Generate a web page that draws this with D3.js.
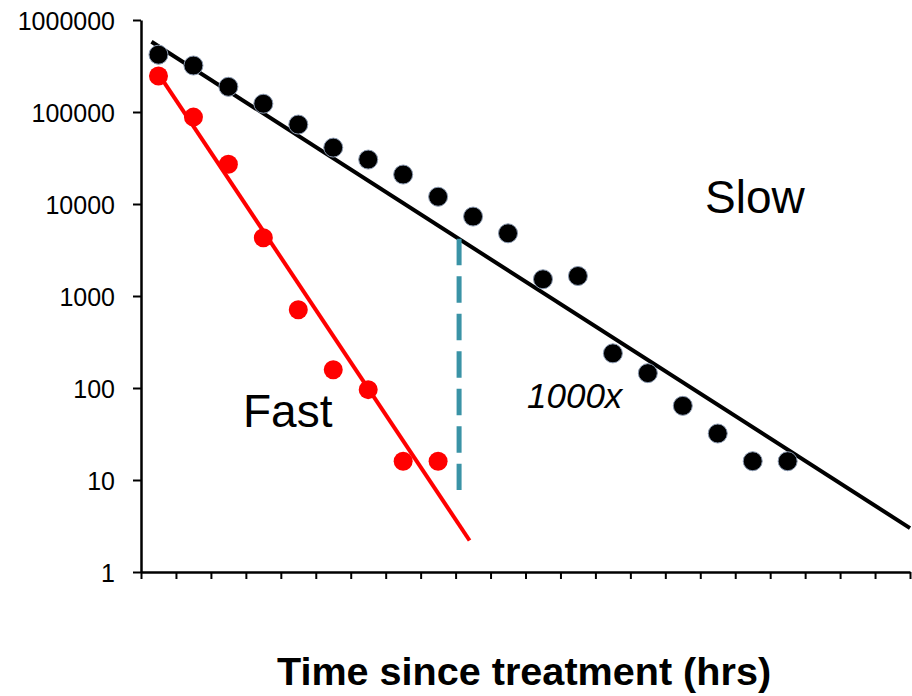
<!DOCTYPE html>
<html>
<head>
<meta charset="utf-8">
<script src="https://cdn.jsdelivr.net/npm/d3@7"></script>
<style>
  body { margin: 0; background: #fff; }
  svg { display: block; font-family: "Liberation Sans", Arial, sans-serif; }
</style>
</head>
<body>
<div id="chart"></div>
<script>
// time points (hrs, in tick units) and counts
const slowTime = [0.5, 1.5, 2.5, 3.5, 4.5, 5.5, 6.5, 7.5, 8.5, 9.5, 10.5, 11.5, 12.5, 13.5, 14.5, 15.5, 16.5, 17.5, 18.5];
const slowCounts = [420000, 320000, 188000, 123000, 73000, 41000, 30400, 20900, 12000, 7300, 4800, 1520, 1650, 238, 145, 64, 32, 16, 16];
const fastTime = [0.5, 1.5, 2.5, 3.5, 4.5, 5.5, 6.5, 7.5, 8.5];
const fastCounts = [246000, 88000, 27000, 4300, 710, 158, 96, 16, 16];

// fitted exponential trend lines (start / end)
const slowFit = [[0.3, 580000], [22, 3.0]];
const fastFit = [[0.5, 260000], [9.4, 2.2]];

// vertical dashed marker showing the 1000x gap
const gapTime = 9.1;
const gapRange = [4200, 7.8];

const yTicks = [1, 10, 100, 1000, 10000, 100000, 1000000];
const xTicks = d3.range(0, 23);

const width = 912, height = 696;

const svg = d3.select("#chart")
  .append("svg")
  .attr("width", width)
  .attr("height", height);

const x = d3.scaleLinear().domain([0, 22]).range([141, 910]);
const y = d3.scaleLog().domain([1, 1000000]).range([572, 20]);

// Y axis
const yAxis = svg.append("g")
  .attr("transform", `translate(${x(0)},0)`)
  .call(d3.axisLeft(y).tickValues(yTicks).tickFormat(d3.format("d")).tickSize(8).tickSizeOuter(0).tickPadding(18));
yAxis.attr("font-size", 25).attr("font-family", "Liberation Sans, Arial, sans-serif");
yAxis.selectAll("text").attr("fill", "#000").attr("dy", "0.36em");
yAxis.selectAll("line").attr("stroke", "#000").attr("stroke-width", 2);
yAxis.select(".domain").attr("stroke", "#000").attr("stroke-width", 2.5);

// X axis (ticks only, no labels)
const xAxis = svg.append("g")
  .attr("transform", `translate(0,${y(1)})`)
  .call(d3.axisBottom(x).tickValues(xTicks).tickFormat("").tickSize(7).tickSizeOuter(0));
xAxis.selectAll("line").attr("stroke", "#000").attr("stroke-width", 2);
xAxis.select(".domain").attr("stroke", "#000").attr("stroke-width", 2.5);

const line = d3.line().x(d => x(d[0])).y(d => y(d[1]));

// trend lines
svg.append("path")
  .datum(slowFit)
  .attr("d", line)
  .attr("fill", "none")
  .attr("stroke", "#000")
  .attr("stroke-width", 4);

svg.append("path")
  .datum(fastFit)
  .attr("d", line)
  .attr("fill", "none")
  .attr("stroke", "#ff0000")
  .attr("stroke-width", 4);

// dashed gap marker
svg.append("line")
  .attr("x1", x(gapTime)).attr("x2", x(gapTime))
  .attr("y1", y(gapRange[0])).attr("y2", y(gapRange[1]))
  .attr("stroke", "#3a93a6")
  .attr("stroke-width", 5)
  .attr("stroke-dasharray", "26.5,11");

// points
svg.append("g").selectAll("circle")
  .data(slowTime.map((t, i) => [t, slowCounts[i]]))
  .enter().append("circle")
  .attr("cx", d => x(d[0]))
  .attr("cy", d => y(d[1]))
  .attr("r", 9.5)
  .attr("fill", "#000")
  .attr("stroke", "#8a99b0")
  .attr("stroke-width", 1);

svg.append("g").selectAll("circle")
  .data(fastTime.map((t, i) => [t, fastCounts[i]]))
  .enter().append("circle")
  .attr("cx", d => x(d[0]))
  .attr("cy", d => y(d[1]))
  .attr("r", 9.5)
  .attr("fill", "#ff0000");

// annotations
svg.append("text")
  .attr("x", 705).attr("y", 213)
  .attr("font-size", 46)
  .text("Slow");

svg.append("text")
  .attr("x", 243).attr("y", 427)
  .attr("font-size", 46)
  .text("Fast");

svg.append("text")
  .attr("x", 527).attr("y", 408)
  .attr("font-size", 35)
  .attr("font-style", "italic")
  .text("1000x");

// X axis title
svg.append("text")
  .attr("x", 524).attr("y", 685)
  .attr("text-anchor", "middle")
  .attr("font-size", 39.6)
  .attr("font-weight", "bold")
  .text("Time since treatment (hrs)");
</script>
</body>
</html>
